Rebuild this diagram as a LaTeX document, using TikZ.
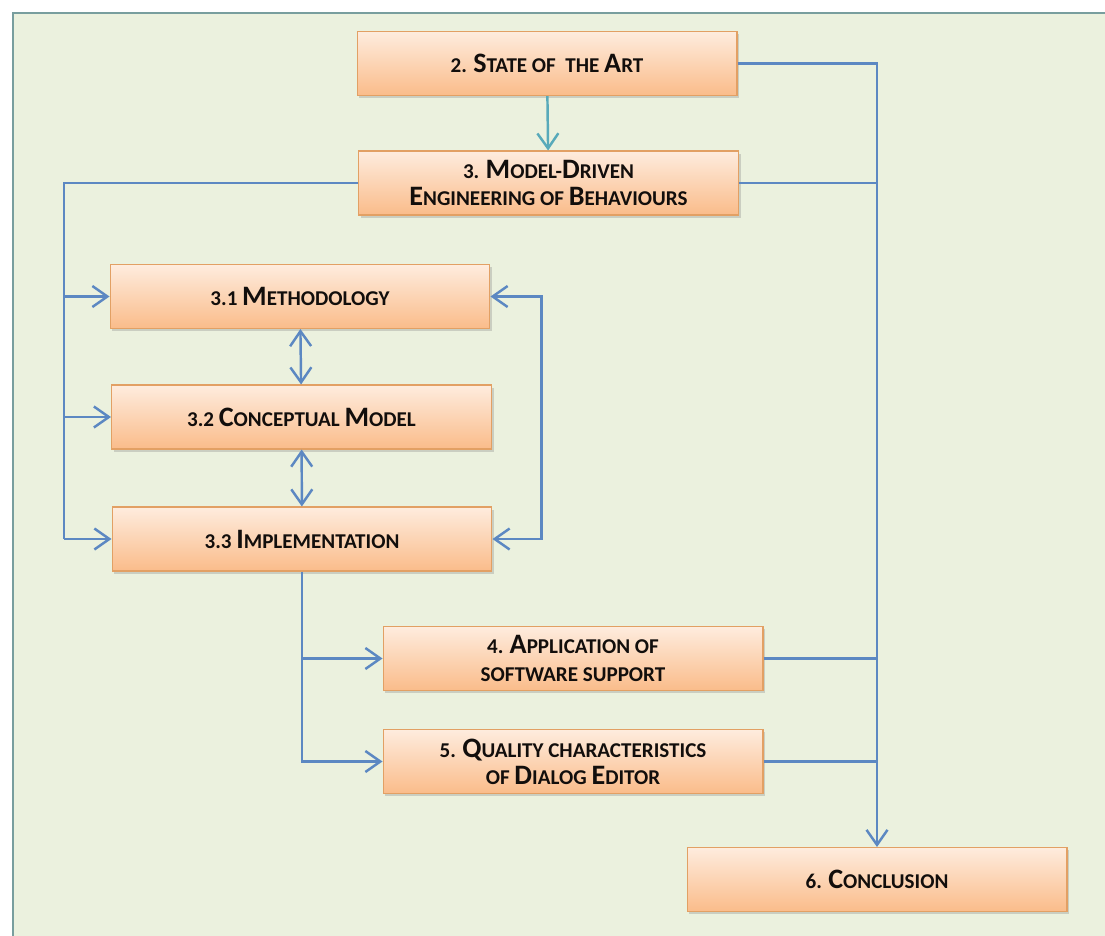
\documentclass[tikz,border=0pt]{standalone}
\usepackage{fontspec}
\setmainfont{Carlito}
\usepackage{tikz}
\usetikzlibrary{shadows, positioning, arrows.meta, calc}
\definecolor{bg}{RGB}{235, 241, 222}
\definecolor{frame}{RGB}{120, 158, 158}
\definecolor{box-top}{RGB}{254, 236, 222}
\definecolor{box-bottom}{RGB}{250, 188, 138}
\definecolor{box-border}{RGB}{226, 160, 100}
\definecolor{link}{RGB}{92, 136, 194}
\definecolor{link-teal}{RGB}{88, 170, 186}
\definecolor{ink}{RGB}{18, 14, 12}
\tikzstyle{arrow} = [link, -{Straight Barb[length=3mm, width=4.2mm]}, line width=1.4pt]
\tikzstyle{darrow} = [link, {Straight Barb[length=3mm, width=4.2mm]}-{Straight Barb[length=3mm, width=4.2mm]}, line width=1.4pt]
\tikzstyle{connector} = [link, -, line width=1.4pt]
\newcommand{\bc}[1]{{\fontsize{16pt}{15.5pt}\selectfont #1}}
\newcommand{\tikzchapnode}{\node[
  draw=box-border, line width=0.6pt, rectangle, minimum width=7.6cm, minimum height=1.28cm,
  top color=box-top, bottom color=box-bottom, inner sep=0, align=center, text=ink,
  drop shadow={shadow xshift=1.2pt, shadow yshift=-1.5pt, opacity=0.3},
  font=\fontsize{12pt}{15.5pt}\selectfont\bfseries
]}

\begin{document}
\begin{tikzpicture}[x=0.02cm, y=-0.02cm]
    % background
    \useasboundingbox (0, 0) rectangle (1105, 936);
    \fill[white] (0, 0) rectangle (1105, 936);
    \fill[bg] (13, 13) rectangle (1105, 936);
    \draw[frame, line width=1.2pt] (1105, 13) -- (13, 13) -- (13, 936);

    % nodes
    \tikzchapnode at (547, 63.5)  (art)   {2. \bc{S}TATE OF \ THE \bc{A}RT};
    \tikzchapnode at (548.5, 183) (mde)   {3. \bc{M}ODEL-\bc{D}RIVEN\\\bc{E}NGINEERING OF \bc{B}EHAVIOURS};
    \tikzchapnode at (300, 296.5) (meth)  {3.1 \bc{M}ETHODOLOGY};
    \tikzchapnode at (301.5, 417) (conc)  {3.2 \bc{C}ONCEPTUAL \bc{M}ODEL};
    \tikzchapnode at (302, 539)   (impl)  {3.3 \bc{I}MPLEMENTATION};
    \tikzchapnode at (573, 658.5) (app)   {4. \bc{A}PPLICATION OF\\SOFTWARE SUPPORT};
    \tikzchapnode at (573, 761.5) (qual)  {5. \bc{Q}UALITY CHARACTERISTICS\\OF \bc{D}IALOG \bc{E}DITOR};
    \tikzchapnode at (877, 879.5) (concl) {6. \bc{C}ONCLUSION};
    \coordinate (lbus) at (64, 0);

    % arrows
    \draw[link-teal, -{Straight Barb[length=3mm, width=4.2mm]}, line width=1.4pt] (art) -- (mde);
    \draw[arrow]      (art.east)  -| (concl.north);
    \draw[connector]  (mde.east)  -- (mde.east -| concl.north);
    \draw[connector]  (app.east)  -- (app.east -| concl.north);
    \draw[connector]  (qual.east) -- (qual.east -| concl.north);
    \draw[connector]  (mde.west)  -| (lbus |- impl.west);
    \draw[arrow]      (lbus |- meth.west) -- (meth.west);
    \draw[arrow]      (lbus |- conc.west) -- (conc.west);
    \draw[arrow]      (lbus |- impl.west) -- (impl.west);
    \draw[darrow]     (meth) -- (conc);
    \draw[darrow]     (conc) -- (impl);
    \draw[darrow]     (meth.east) -- ++(51, 0) |- (impl.east);
    \draw[arrow]      (impl.south) |- (qual.west);
    \draw[arrow]      (impl.south |- app.west) -- (app.west);
\end{tikzpicture}
\end{document}
